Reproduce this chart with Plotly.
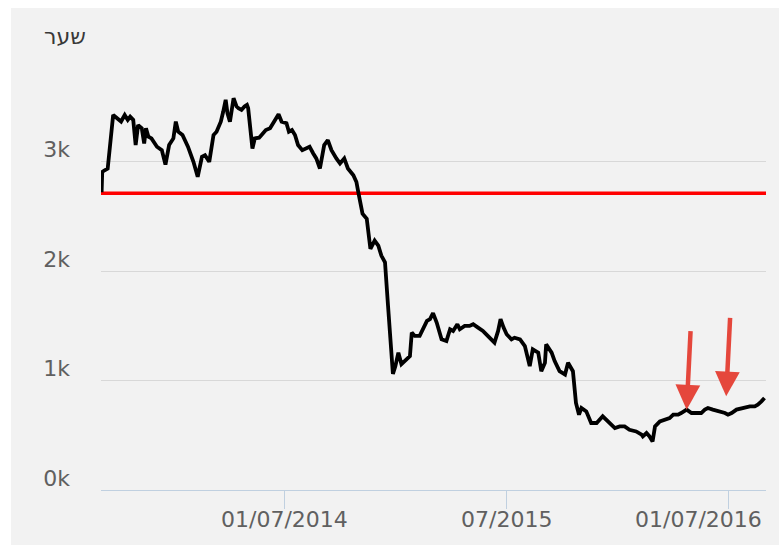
import plotly.graph_objects as go

# ---- data ----
dates = [
    "2013-09-04", "2013-09-05", "2013-09-09", "2013-09-14", "2013-09-23", "2013-09-29",
    "2013-10-06", "2013-10-12", "2013-10-17", "2013-10-21", "2013-10-26", "2013-10-30",
    "2013-11-03", "2013-11-09", "2013-11-13", "2013-11-16", "2013-11-20", "2013-11-25",
    "2013-12-04", "2013-12-12", "2013-12-18", "2013-12-24", "2013-12-31",
    "2014-01-04", "2014-01-08", "2014-01-15", "2014-01-24",
    "2014-02-02", "2014-02-09", "2014-02-16", "2014-02-21", "2014-02-28",
    "2014-03-07", "2014-03-12", "2014-03-19", "2014-03-23", "2014-03-27", "2014-03-30",
    "2014-04-03", "2014-04-09", "2014-04-14", "2014-04-17", "2014-04-22", "2014-04-27",
    "2014-05-01", "2014-05-03", "2014-05-10", "2014-05-14", "2014-05-21", "2014-05-25",
    "2014-06-01", "2014-06-08", "2014-06-16", "2014-06-22", "2014-06-27",
    "2014-07-05", "2014-07-09", "2014-07-14", "2014-07-19", "2014-07-24", "2014-07-31",
    "2014-08-07", "2014-08-12", "2014-08-18", "2014-08-23", "2014-08-29",
    "2014-09-05", "2014-09-11", "2014-09-17", "2014-09-25",
    "2014-10-01", "2014-10-08", "2014-10-14", "2014-10-23", "2014-10-28", "2014-10-31",
    "2014-11-07", "2014-11-14", "2014-11-20", "2014-11-27",
    "2014-12-03", "2014-12-08", "2014-12-14", "2014-12-19", "2014-12-27", "2014-12-31",
    "2015-01-05", "2015-01-10", "2015-01-18", "2015-01-24", "2015-01-27",
    "2015-02-01", "2015-02-09", "2015-02-15", "2015-02-21", "2015-02-26",
    "2015-03-03", "2015-03-09", "2015-03-17", "2015-03-25", "2015-03-31",
    "2015-04-05", "2015-04-12", "2015-04-16", "2015-04-24",
    "2015-05-02", "2015-05-08", "2015-05-16", "2015-05-24",
    "2015-06-01", "2015-06-12", "2015-06-18", "2015-06-22", "2015-06-27",
    "2015-07-02", "2015-07-10", "2015-07-15", "2015-07-24",
    "2015-08-01", "2015-08-09", "2015-08-14", "2015-08-23", "2015-08-28",
    "2015-09-03", "2015-09-05", "2015-09-14", "2015-09-19", "2015-09-27",
    "2015-10-06", "2015-10-11", "2015-10-19", "2015-10-24", "2015-10-29",
    "2015-11-02", "2015-11-10", "2015-11-18", "2015-11-27",
    "2015-12-07", "2015-12-16", "2015-12-27",
    "2016-01-04", "2016-01-12", "2016-01-20", "2016-01-31",
    "2016-02-09", "2016-02-11", "2016-02-17", "2016-02-22", "2016-02-27",
    "2016-03-02", "2016-03-10", "2016-03-18", "2016-03-26",
    "2016-04-01", "2016-04-09", "2016-04-14", "2016-04-23",
    "2016-05-01", "2016-05-09", "2016-05-17", "2016-05-23", "2016-05-28",
    "2016-06-05", "2016-06-16", "2016-06-25", "2016-06-30",
    "2016-07-06", "2016-07-14", "2016-07-25",
    "2016-08-05", "2016-08-13", "2016-08-18", "2016-08-24", "2016-08-29",
]
prices = [
    2720, 2905, 2920, 2935, 3425, 3395,
    3365, 3425, 3380, 3410, 3380, 3150,
    3333, 3303, 3165, 3303, 3226, 3211,
    3135, 3104, 2972, 3150, 3211,
    3364, 3272, 3242, 3135,
    2997, 2860, 3043, 3058, 2997,
    3242, 3272, 3364, 3456, 3563, 3440,
    3364, 3578, 3502, 3486, 3471, 3502,
    3517, 3486, 3119, 3211, 3217, 3242,
    3287, 3303, 3379, 3431, 3364,
    3349, 3272, 3287, 3242, 3150, 3104,
    3119, 3135, 3073, 3028, 2936,
    3150, 3196, 3104, 3028,
    2982, 3028, 2936, 2875, 2813, 2722,
    2523, 2477, 2202, 2278,
    2232, 2141, 2080, 1682, 1060, 1131,
    1254, 1150, 1193, 1223, 1437,
    1407, 1407, 1468, 1544, 1560,
    1615, 1529, 1376, 1361, 1468,
    1453, 1514, 1468, 1498,
    1498, 1514, 1483, 1453,
    1407, 1346, 1453, 1560, 1483,
    1422, 1376, 1391, 1376,
    1315, 1131, 1284, 1254, 1085,
    1162, 1330, 1254, 1177, 1085,
    1055, 1162, 1085, 795, 688,
    749, 718, 612, 612,
    673, 627, 566,
    581, 581, 550, 535,
    505, 489, 520, 489, 443,
    581, 627, 642, 657,
    688, 688, 703, 734,
    703, 703, 703, 734, 749,
    734, 718, 703, 688,
    703, 734, 749,
    764, 764, 780, 810, 841,
]

threshold = 2710

x_range = ["2013-09-03", "2016-08-31 12:00"]
y_tick_values = [0, 1000, 2000, 3000, 4000]
y_tick_labels = ["0k", "1k", "2k", "3k", ""]
x_tick_values = ["2014-07-01", "2015-07-01", "2016-07-01"]
x_tick_labels = ["01/07/2014", "07/2015", "01/07/2016"]

arrow_dates = ["2016-04-23", "2016-06-27"]
arrow_values = [734, 856]

y_title = "שער"

# ---- figure ----
FONT = "DejaVu Sans"
LABEL_COLOR = "#606060"

fig = go.Figure()

fig.add_trace(go.Scatter(
    x=x_range, y=[threshold, threshold], mode="lines",
    line=dict(color="#ff0000", width=3.5), hoverinfo="skip", showlegend=False,
))
fig.add_trace(go.Scatter(
    x=dates, y=prices, mode="lines",
    line=dict(color="#000000", width=3.8), showlegend=False,
))

W, H = 779, 548
ML, MR, MT, MB = 101, 13, 52, 58
pw, ph = W - ML - MR, H - MT - MB

def px_to_paper_x(px):
    return (px - ML) / pw

def px_to_paper_y(py):
    return (H - MB - py) / ph

# gray panel with a thin white border
fig.add_shape(
    type="rect", xref="paper", yref="paper",
    x0=px_to_paper_x(11), x1=px_to_paper_x(W + 2),
    y0=px_to_paper_y(545), y1=px_to_paper_y(8),
    fillcolor="#f2f2f2", line=dict(width=0), layer="below",
)

annotations = []
# x labels
for i, (tv, tt) in enumerate(zip(x_tick_values, x_tick_labels)):
    if i == len(x_tick_values) - 1:
        annotations.append(dict(
            x=1, xref="paper", xanchor="right", xshift=-2,
            y=0, yref="paper", yanchor="middle", yshift=-29,
            text=tt, showarrow=False,
            font=dict(family=FONT, size=22, color=LABEL_COLOR),
        ))
    else:
        annotations.append(dict(
            x=tv, xref="x", xanchor="center",
            y=0, yref="paper", yanchor="middle", yshift=-29,
            text=tt, showarrow=False,
            font=dict(family=FONT, size=22, color=LABEL_COLOR),
        ))

# y title
annotations.append(dict(
    x=px_to_paper_x(88), xref="paper", xanchor="right",
    y=px_to_paper_y(36), yref="paper", yanchor="middle",
    text=y_title, showarrow=False,
    font=dict(family=FONT, size=22, color="#383838"),
))

# red arrows
for d, v in zip(arrow_dates, arrow_values):
    annotations.append(dict(
        x=d, y=v, xref="x", yref="y", text="",
        showarrow=True, arrowhead=2, arrowsize=1.1, arrowwidth=4.5,
        arrowcolor="#e5473c", ax=4, ay=-80, standoff=0,
    ))

fig.update_layout(
    width=W, height=H,
    margin=dict(l=ML, r=MR, t=MT, b=MB, pad=0),
    paper_bgcolor="#ffffff",
    plot_bgcolor="rgba(0,0,0,0)",
    font=dict(family=FONT, size=22, color=LABEL_COLOR),
    showlegend=False,
    annotations=annotations,
    xaxis=dict(
        type="date", range=x_range,
        showgrid=False, zeroline=False,
        showline=True, linecolor="#c0d0e0", linewidth=1,
        tickvals=x_tick_values, ticks="outside", ticklen=18,
        tickcolor="#c0d0e0", tickwidth=1,
        showticklabels=False,
    ),
    yaxis=dict(
        range=[0, 4000],
        tickvals=y_tick_values, ticktext=y_tick_labels,
        showgrid=True, gridcolor="#d8d8d8", gridwidth=1,
        zeroline=False, showline=False, ticks="",
        tickfont=dict(family=FONT, size=22, color=LABEL_COLOR),
        ticklabelshift=-12, ticklabelstandoff=30,
    ),
)

fig.write_html(
    "out.html",
    config={"displayModeBar": False},
    post_script="document.body.style.margin='0';document.body.style.overflow='hidden';",
)
